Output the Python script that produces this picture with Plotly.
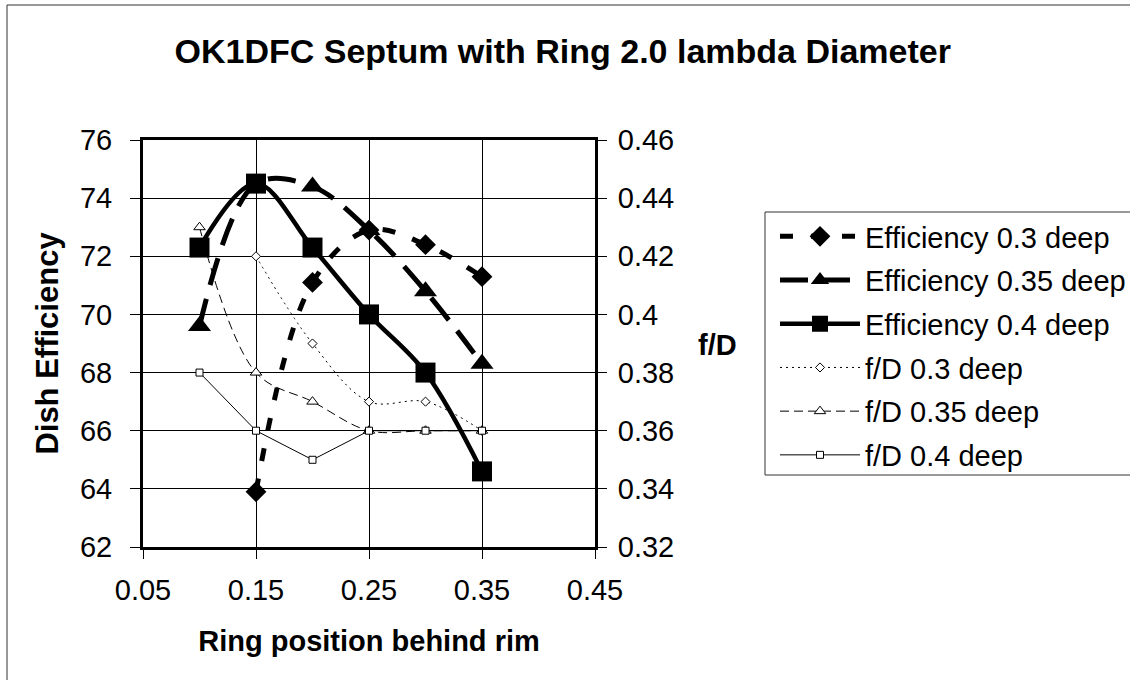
import plotly.graph_objects as go

# ---- data ----
ring_pos = [0.10, 0.15, 0.20, 0.25, 0.30, 0.35]
eff_03 = [None, 63.9, 71.1, 72.9, 72.4, 71.3]
eff_035 = [69.6, 74.5, 74.4, 72.9, 70.8, 68.3]
eff_04 = [72.3, 74.5, 72.3, 70.0, 68.0, 64.6]
fd_03 = [None, 0.42, 0.39, 0.37, 0.37, 0.36]
fd_035 = [0.43, 0.38, 0.37, 0.36, 0.36, 0.36]
fd_04 = [0.38, 0.36, 0.35, 0.36, 0.36, 0.36]

x_ticks = [0.05, 0.15, 0.25, 0.35, 0.45]
y_ticks = [62, 64, 66, 68, 70, 72, 74, 76]
y2_ticks = [0.32, 0.34, 0.36, 0.38, 0.40, 0.42, 0.44, 0.46]
y2_labels = ["0.32", "0.34", "0.36", "0.38", "0.4", "0.42", "0.44", "0.46"]

FONT = "Liberation Sans, Arial, sans-serif"

fig = go.Figure()

series = [
    ("Efficiency 0.3 deep", eff_03, "y", dict(width=5, dash="13px,18px", shape="spline"),
     dict(symbol="diamond", size=16, color="black", line=dict(width=0))),
    ("Efficiency 0.35 deep", eff_035, "y", dict(width=5, dash="28px,14px", shape="spline"),
     dict(symbol="triangle-up", size=20, color="black", line=dict(width=0))),
    ("Efficiency 0.4 deep", eff_04, "y", dict(width=4.5, shape="spline"),
     dict(symbol="square", size=20, color="black", line=dict(width=0))),
    ("f/D 0.3 deep", fd_03, "y2", dict(width=1, dash="2px,4px", shape="spline"),
     dict(symbol="diamond", size=7, color="white", line=dict(width=1, color="black"))),
    ("f/D 0.35 deep", fd_035, "y2", dict(width=1, dash="9px,5px", shape="spline"),
     dict(symbol="triangle-up", size=10, color="white", line=dict(width=1, color="black"))),
    ("f/D 0.4 deep", fd_04, "y2", dict(width=1),
     dict(symbol="square", size=7, color="white", line=dict(width=1, color="black"))),
]

for i, (name, vals, yax, ln, mk) in enumerate(series):
    ln = dict(ln)
    ln["color"] = "black"
    fig.add_trace(go.Scatter(
        x=ring_pos, y=vals, name=name, yaxis=yax,
        mode="lines+markers", line=ln, marker=mk,
        legendgroup=f"g{i}", connectgaps=False,
    ))

# plot area geometry (pixels)
L, R, T, B = 143, 595, 140, 547
W, H = 1130, 680
pw, ph = R - L, B - T

def px_x(p):
    return (p - L) / pw

def px_y(p):
    return (B - p) / ph

fig.update_layout(
    width=W, height=H,
    margin=dict(l=L, r=W - R, t=T, b=H - B, autoexpand=False),
    paper_bgcolor="white", plot_bgcolor="white",
    font=dict(family=FONT, size=29, color="black"),
    title=dict(text="<b>OK1DFC Septum with Ring 2.0 lambda Diameter</b>",
               x=0.498, xref="container", xanchor="center",
               y=1 - 51 / H, yref="container", yanchor="middle",
               font=dict(size=34, family=FONT, color="black")),
    xaxis=dict(range=[0.05, 0.45], tickvals=x_ticks, ticktext=[f"{v:.2f}" for v in x_ticks],
               showgrid=True, gridcolor="black", gridwidth=1,
               ticks="outside", ticklen=9, tickwidth=1, tickcolor="black",
               showline=True, linewidth=3, linecolor="black", mirror=True,
               zeroline=False, ticklabelstandoff=6,
               title=dict(text="<b>Ring position behind rim</b>", standoff=26,
                          font=dict(size=29, family=FONT))),
    yaxis=dict(range=[62, 76], tickvals=y_ticks,
               showgrid=True, gridcolor="black", gridwidth=1,
               ticks="outside", ticklen=10, tickwidth=1, tickcolor="black",
               showline=True, linewidth=3, linecolor="black", mirror=True,
               zeroline=False, ticklabelstandoff=12,
               title=dict(text="<b>Dish Efficiency</b>", standoff=13,
                          font=dict(size=31, family=FONT))),
    yaxis2=dict(range=[0.32, 0.46], tickvals=y2_ticks, ticktext=y2_labels,
                overlaying="y", side="right", showgrid=False,
                ticks="outside", ticklen=9, tickwidth=1, tickcolor="black",
                showline=True, linewidth=3, linecolor="black",
                zeroline=False, ticklabelstandoff=5),
    legend=dict(x=px_x(775), y=px_y(211), xanchor="left", yanchor="top",
                bgcolor="rgba(0,0,0,0)", borderwidth=0,
                font=dict(size=29, family=FONT, color="black"),
                traceorder="grouped", tracegroupgap=3, itemwidth=80),
    showlegend=True,
)

fig.add_annotation(text="<b>f/D</b>", x=px_x(717), y=px_y(345), xref="paper", yref="paper",
                   showarrow=False, xanchor="center", yanchor="middle",
                   font=dict(size=29, family=FONT, color="black"))

# legend frame (extends past the right edge as in the reference)
fig.add_shape(type="rect", xref="paper", yref="paper",
              x0=px_x(765), x1=px_x(1400), y0=px_y(475), y1=px_y(212),
              line=dict(color="#333333", width=1), fillcolor="rgba(0,0,0,0)", layer="above")
# outer chart frame
fig.add_shape(type="rect", xref="paper", yref="paper",
              x0=px_x(7), x1=px_x(1500), y0=px_y(900), y1=px_y(5),
              line=dict(color="#333333", width=1), fillcolor="rgba(0,0,0,0)", layer="above")

fig.write_html("out.html", config={"displayModeBar": False},
               post_script="document.body.style.margin='0px';")
